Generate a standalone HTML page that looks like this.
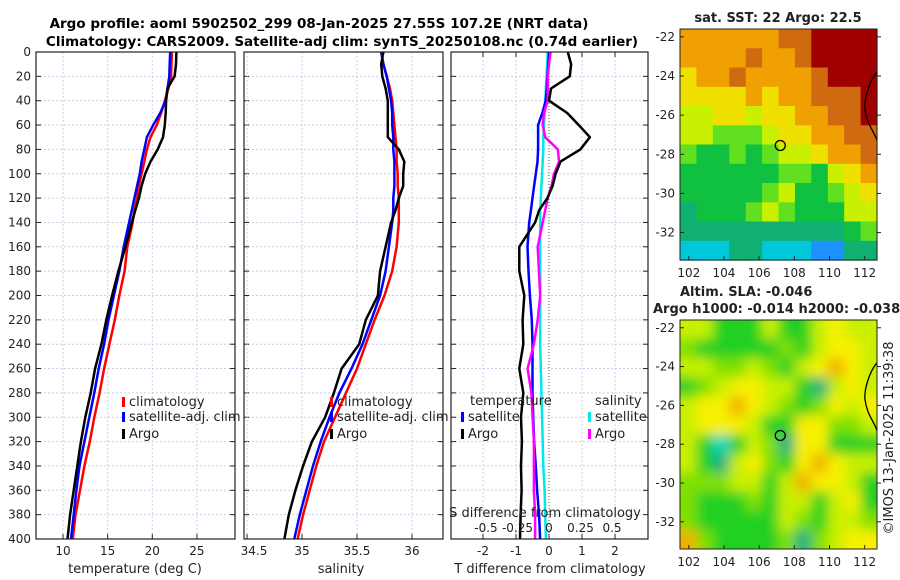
<!DOCTYPE html>
<html><head><meta charset="utf-8">
<style>
html,body{margin:0;padding:0;background:#fff;}
svg{display:block;font-family:"DejaVu Sans","Liberation Sans",sans-serif;}
</style></head>
<body>
<svg id="c" width="900" height="580" viewBox="0 0 900 580" xmlns="http://www.w3.org/2000/svg">
<defs>
<clipPath id="cp1"><rect x="36" y="52" width="199" height="487"/></clipPath>
<clipPath id="cp2"><rect x="244" y="52" width="199" height="487"/></clipPath>
<clipPath id="cp3"><rect x="451" y="52" width="197" height="487"/></clipPath>
<clipPath id="cpm2"><rect x="680" y="320" width="197" height="229"/></clipPath>
<filter id="blur"><feGaussianBlur stdDeviation="6"/></filter>
</defs>
<text x="319" y="28" text-anchor="middle" font-size="13.5" font-weight="bold">Argo profile: aoml 5902502_299 08-Jan-2025 27.55S 107.2E (NRT data)</text>
<text x="342" y="46" text-anchor="middle" font-size="13.5" font-weight="bold">Climatology: CARS2009. Satellite-adj clim: synTS_20250108.nc (0.74d earlier)</text>
<g id="g"></g>
</svg>
<script>
// depth levels
const depths = [0,10,20,30,40,50,60,70,80,90,100,110,120,130,140,160,180,200,220,240,260,280,300,320,340,360,380,400];
// temperature (deg C)
const tempArgo = [22.7,22.65,22.5,21.7,21.55,21.5,21.4,21.2,20.6,19.8,19.2,18.8,18.5,18.1,17.7,17.0,16.2,15.5,14.85,14.3,13.6,13.1,12.5,12.0,11.6,11.2,10.8,10.5];
const tempClim = [22.2,22.15,22.1,21.8,21.4,21.0,20.5,19.8,19.4,19.1,18.8,18.5,18.3,18.0,17.8,17.2,16.9,16.3,15.8,15.2,14.6,14.1,13.5,13.0,12.4,11.9,11.4,11.1];
const tempSat = [22.0,21.95,21.9,21.7,21.5,20.9,20.1,19.4,19.1,18.8,18.6,18.3,18.0,17.7,17.4,16.8,16.3,15.7,15.1,14.6,14.0,13.5,12.95,12.4,11.85,11.5,11.2,10.9];
// salinity
const salArgo = [35.74,35.72,35.73,35.76,35.78,35.78,35.78,35.78,35.88,35.93,35.92,35.92,35.88,35.85,35.81,35.76,35.71,35.69,35.58,35.52,35.36,35.29,35.21,35.09,35.01,34.94,34.88,34.84];
const salClim = [35.72,35.74,35.77,35.80,35.82,35.83,35.84,35.85,35.86,35.86,35.87,35.87,35.88,35.88,35.88,35.86,35.82,35.75,35.66,35.58,35.50,35.40,35.30,35.20,35.13,35.07,35.01,34.96];
const salSat = [35.72,35.74,35.77,35.79,35.81,35.82,35.82,35.83,35.83,35.84,35.84,35.84,35.83,35.83,35.82,35.79,35.76,35.71,35.63,35.55,35.45,35.34,35.25,35.17,35.10,35.04,34.98,34.93];
// difference from climatology
const dTArgo = [0.57,0.67,0.63,0.06,0.0,0.55,0.9,1.24,0.95,0.35,0.2,0.11,-0.05,-0.3,-0.42,-0.9,-0.9,-0.75,-0.8,-0.78,-0.9,-0.78,-0.85,-0.82,-0.85,-0.83,-0.86,-0.88];
const dTSat = [0,-0.02,-0.05,-0.07,-0.1,-0.2,-0.33,-0.33,-0.33,-0.35,-0.4,-0.45,-0.5,-0.55,-0.6,-0.65,-0.62,-0.58,-0.52,-0.5,-0.5,-0.5,-0.48,-0.45,-0.4,-0.36,-0.3,-0.27];
const dSSat = [-0.01,-0.015,-0.02,-0.025,-0.03,-0.035,-0.04,-0.045,-0.045,-0.05,-0.055,-0.06,-0.065,-0.07,-0.07,-0.07,-0.07,-0.07,-0.07,-0.07,-0.065,-0.06,-0.055,-0.05,-0.045,-0.035,-0.03,-0.025];
const dSArgo = [0.013,0.0,-0.01,-0.01,-0.01,-0.04,-0.05,-0.03,0.07,0.08,0.04,0.02,-0.01,-0.03,-0.05,-0.09,-0.08,-0.07,-0.09,-0.12,-0.17,-0.14,-0.13,-0.12,-0.12,-0.12,-0.11,-0.11];
// tick labels
const depthTicks = [0,20,40,60,80,100,120,140,160,180,200,220,240,260,280,300,320,340,360,380,400];
const tempTicks = [10,15,20,25];
const salTicks = [34.5,35,35.5,36];
const salTickLabels = ["34.5","35","35.5","36"];
const dTTicks = [-2,-1,0,1,2];
const dSTicks = [-0.5,-0.25,0,0.25,0.5];
// maps
const lonTicks = [102,104,106,108,110,112];
const latTicks = [-22,-24,-26,-28,-30,-32];
const sstGrid = [
"777777889999","777787789999","677877778999","666676778889",
"556656677889","554445667788","433434556778","333333443567",
"333334533456","233345433355","222222222234","111221110022"];
const slaGrid = [
"553335335655","433333435665","554454356765","345665532565",
"566765434656","566653366445","531354266333","532564367655",
"444553576653","433343553563","433333543554","743333424566"];

const NS="http://www.w3.org/2000/svg";
const G=document.getElementById('g');
function mk(tag,attrs,parent){const e=document.createElementNS(NS,tag);for(const k in attrs)e.setAttribute(k,attrs[k]);(parent||G).appendChild(e);return e;}
function txt(x,y,s,size,anchor,parent){const t=mk('text',{x:x,y:y,'font-size':size||12,'text-anchor':anchor||'middle',fill:'#222'},parent);t.textContent=s;return t;}
const yD=d=>52+d*1.2175;
const xT=v=>63+(v-10)*8.93;
const xS=v=>357+(v-35.5)*110;
const xDT=v=>549+v*33;
const xDS=v=>549+v*126;

function panel(name){
  const g=mk('g',{});
  
  
  return g;
}
function hgrid(g,x0,w){
  depthTicks.forEach(d=>{mk('line',{x1:x0,x2:x0+w,y1:yD(d),y2:yD(d),stroke:'#c8d0e8','stroke-width':1,'stroke-dasharray':'2,2'},g);
    mk('line',{x1:x0,x2:x0+5,y1:yD(d),y2:yD(d),stroke:'#222'},g);mk('line',{x1:x0+w-5,x2:x0+w,y1:yD(d),y2:yD(d),stroke:'#222'},g);});
}
function line(g,xs,fn,color,w,clip,name){
  const p=xs.map((v,i)=>(i?'L':'M')+fn(v).toFixed(1)+','+yD(depths[i]).toFixed(1)).join('');
  const e=mk('path',{d:p,fill:'none',stroke:color,'stroke-width':w,'clip-path':'url(#'+clip+')','stroke-linejoin':'round'},g);
  
  
}
function legendItem(g,x,y,color,label,name){
  mk('rect',{x:x,y:y-9,width:3,height:10,fill:color},g);
  const t=txt(x+7,y,label,13,'start',g);
  
  
}

// Panel 1 temperature
const p1=panel('temperature-panel');
hgrid(p1,36,199);
tempTicks.forEach(v=>{mk('line',{x1:xT(v),x2:xT(v),y1:52,y2:539,stroke:'#c8d0e8','stroke-dasharray':'2,2'},p1);
  mk('line',{x1:xT(v),x2:xT(v),y1:534,y2:539,stroke:'#222'},p1);txt(xT(v),555,String(v),12,'middle',p1);});
depthTicks.forEach(d=>txt(31,yD(d)+4,String(d),12,'end',p1));
line(p1,tempClim,xT,'#ff0000',2.5,'cp1','temperature-climatology-line');
line(p1,tempSat,xT,'#0000ff',2.5,'cp1','temperature-satellite-line');
line(p1,tempArgo,xT,'#000',2.5,'cp1','temperature-argo-line');
mk('rect',{x:36,y:52,width:199,height:487,fill:'none',stroke:'#222','stroke-width':1.2},p1);
legendItem(p1,122,406,'#ff0000','climatology','legend-climatology');
legendItem(p1,122,421,'#0000ff','satellite-adj. clim','legend-satellite-adj');
legendItem(p1,122,438,'#000','Argo','legend-argo');
const xl1=txt(135,573,'temperature (deg C)',13,'middle',p1);


// Panel 2 salinity
const p2=panel('salinity-panel');
hgrid(p2,244,199);
salTicks.forEach((v,i)=>{mk('line',{x1:xS(v),x2:xS(v),y1:52,y2:539,stroke:'#c8d0e8','stroke-dasharray':'2,2'},p2);
  mk('line',{x1:xS(v),x2:xS(v),y1:534,y2:539,stroke:'#222'},p2);txt(xS(v)+(i==0?7:0),555,salTickLabels[i],12,'middle',p2);});
line(p2,salClim,xS,'#ff0000',2.5,'cp2','salinity-climatology-line');
line(p2,salSat,xS,'#0000ff',2.5,'cp2','salinity-satellite-line');
line(p2,salArgo,xS,'#000',2.5,'cp2','salinity-argo-line');
mk('rect',{x:244,y:52,width:199,height:487,fill:'none',stroke:'#222','stroke-width':1.2},p2);
legendItem(p2,330,406,'#ff0000','climatology','legend-climatology-2');
legendItem(p2,330,421,'#0000ff','satellite-adj. clim','legend-satellite-adj-2');
legendItem(p2,330,438,'#000','Argo','legend-argo-2');
const xl2=txt(341,573,'salinity',13,'middle',p2);


// Panel 3 differences
const p3=panel('difference-panel');
hgrid(p3,451,197);
dTTicks.forEach(v=>{ if(v!==0) mk('line',{x1:xDT(v),x2:xDT(v),y1:52,y2:539,stroke:'#c8d0e8','stroke-dasharray':'2,2'},p3);
  mk('line',{x1:xDT(v),x2:xDT(v),y1:534,y2:539,stroke:'#222'},p3);mk('line',{x1:xDT(v),x2:xDT(v),y1:52,y2:57,stroke:'#222'},p3);txt(xDT(v),555,String(v),12,'middle',p3);});
mk('line',{x1:549,x2:549,y1:52,y2:539,stroke:'#555','stroke-dasharray':'1,2'},p3);
line(p3,dSSat,xDS,'#00e8e8',2.5,'cp3','salinity-diff-satellite-line');
line(p3,dTSat,xDT,'#0000ff',2.5,'cp3','temperature-diff-satellite-line');
line(p3,dSArgo,xDS,'#ff00ff',2.5,'cp3','salinity-diff-argo-line');
line(p3,dTArgo,xDT,'#000',2.5,'cp3','temperature-diff-argo-line');
mk('rect',{x:451,y:52,width:197,height:487,fill:'none',stroke:'#222','stroke-width':1.2},p3);
txt(470,405,'temperature',13,'start',p3);
legendItem(p3,461,421,'#0000ff','satellite','legend-t-satellite');
legendItem(p3,461,438,'#000','Argo','legend-t-argo');
txt(595,405,'salinity',13,'start',p3);
legendItem(p3,588,421,'#00e8e8','satellite','legend-s-satellite');
legendItem(p3,588,438,'#ff00ff','Argo','legend-s-argo');
txt(545,517,'S difference from climatology',13,'middle',p3);
dSTicks.forEach(v=>txt(xDS(v),532,String(v),12,'middle',p3));
const xl3=txt(550,573,'T difference from climatology',13,'middle',p3);


// Maps
const sstCol=['#1e90ff','#00c8d8','#10b070','#10c040','#60e020','#c8f000','#f0e000','#f0a000','#d06a10','#a00000'];
const slaCol=['#1e90ff','#10d8c0','#10b080','#20d020','#80e000','#c8f000','#f8f000','#f0b000','#e08000','#a00000'];
function mapPanel(y0,h,grid,cols,name,blur){
  const g=mk('g',{});
  
  
  const x0=680,w=197,lonL=101.5,lonR=112.7,latT=-21.6,latB=-33.4;
  const xL=v=>x0+(v-lonL)/(lonR-lonL)*w;
  const yL=v=>y0+(latT-v)/(latT-latB)*h;
  const cg=mk('g',blur?{'clip-path':'url(#cpm2)'}:{},g);
  const inner=mk('g',blur?{filter:'url(#blur)'}:{},cg);
  const nr=grid.length,nc=grid[0].length;
  const cw=w/nc,ch=h/nr;
  for(let r=-1;r<=nr;r++)for(let c=-1;c<=nc;c++){
    const rr=Math.min(nr-1,Math.max(0,r)),cc=Math.min(nc-1,Math.max(0,c));
    if(!blur&&(r!==rr||c!==cc))continue;
    const cell=mk('rect',{x:(x0+c*cw).toFixed(1),y:(y0+r*ch).toFixed(1),width:(cw+0.6).toFixed(1),height:(ch+0.6).toFixed(1),fill:cols[+grid[rr][cc]]},inner);
    
    
  }
  mk('path',{d:`M${x0+w},${yL(-23.8)} C${x0+w-8},${yL(-24.3)} ${x0+w-13},${yL(-25.2)} ${x0+w-12},${yL(-25.7)} C${x0+w-10},${yL(-26.5)} ${x0+w-3},${yL(-26.8)} ${x0+w},${yL(-27.3)}`,fill:'none',stroke:'#000','stroke-width':1.3},g);
  const m=mk('circle',{cx:xL(107.2),cy:yL(-27.55),r:5,fill:'none',stroke:'#000','stroke-width':1.3},g);
  
  mk('rect',{x:x0,y:y0,width:w,height:h,fill:'none',stroke:'#222','stroke-width':1},g);
  lonTicks.forEach(v=>{mk('line',{x1:xL(v),x2:xL(v),y1:y0+h,y2:y0+h-4,stroke:'#222'},g);txt(xL(v),y0+h+17,String(v),12,'middle',g);});
  latTicks.forEach(v=>{mk('line',{x1:x0,x2:x0+4,y1:yL(v),y2:yL(v),stroke:'#222'},g);mk('line',{x1:x0+w,x2:x0+w+4,y1:yL(v),y2:yL(v),stroke:'#222'},g);txt(x0-5,yL(v)+4,String(v),12,'end',g);});
}
mapPanel(29,231,sstGrid,sstCol,'sst-map',false);
mapPanel(320,229,slaGrid,slaCol,'sla-map',true);
const t1=txt(778,22,'sat. SST: 22 Argo: 22.5',13,'middle');t1.setAttribute('font-weight','bold');

const t2=txt(680,296,'Altim. SLA: -0.046',13,'start');t2.setAttribute('font-weight','bold');

const t3=txt(653,313,'Argo h1000: -0.014 h2000: -0.038',13,'start');t3.setAttribute('font-weight','bold');

const cr=txt(0,0,'©IMOS 13-Jan-2025 11:39:38',13,'middle');
cr.setAttribute('transform','translate(893,438) rotate(-90)');

</script>
</body></html>
